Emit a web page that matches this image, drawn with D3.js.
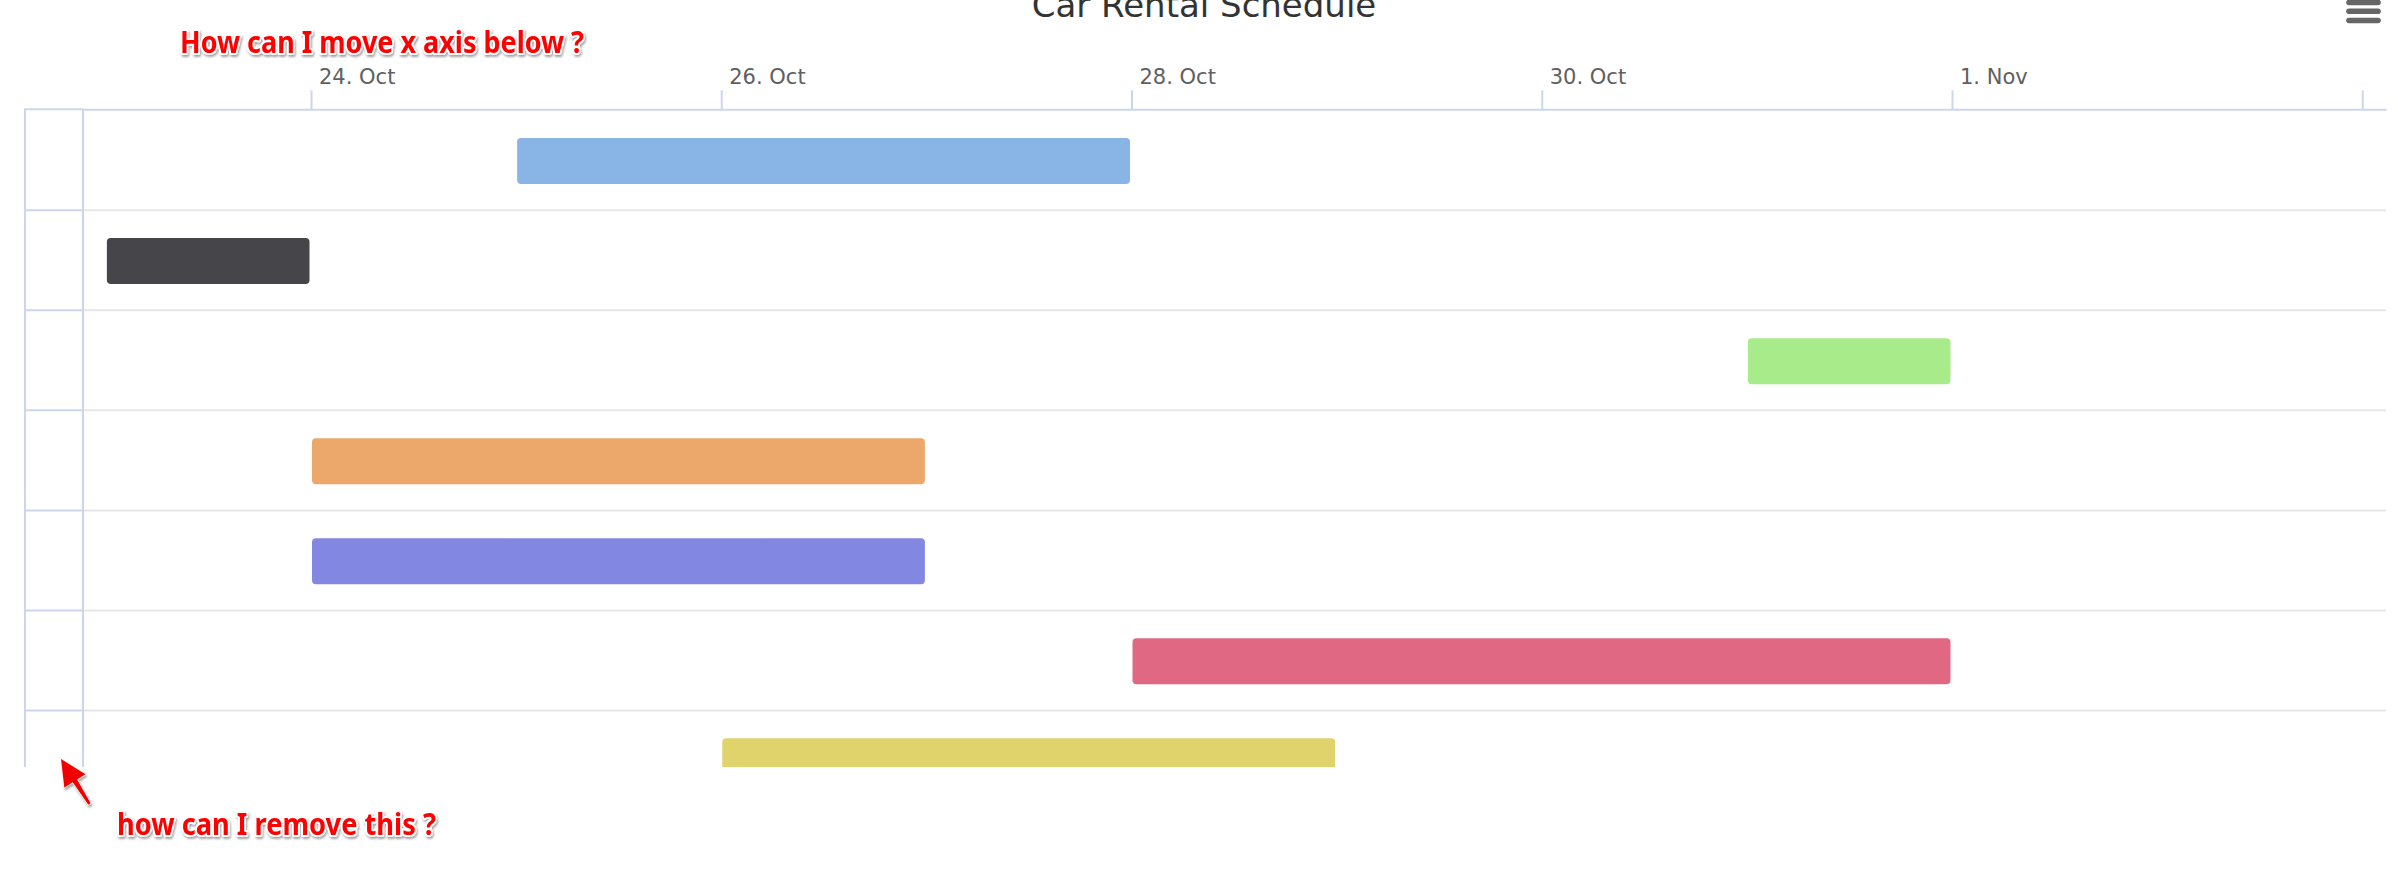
<!DOCTYPE html>
<html>
<head>
<meta charset="utf-8">
<script src="https://cdn.jsdelivr.net/npm/d3@7"></script>
<style>
  html, body { margin: 0; padding: 0; background: #ffffff; }
  svg { display: block; }
</style>
</head>
<body>
<svg id="chart" width="2398" height="872"></svg>
<script>
// ---------------- data ----------------
const rowIds      = ["r1", "r2", "r3", "r4", "r5", "r6", "r7"];
const startDates  = ["2014-10-25", "2014-10-23", "2014-10-31", "2014-10-24", "2014-10-24", "2014-10-28", "2014-10-26"];
const endDates    = ["2014-10-28", "2014-10-24", "2014-11-01", "2014-10-27", "2014-10-27", "2014-11-01", "2014-10-29"];
const barColors   = ["#88b4e6", "#464549", "#a8eb8a", "#eba86a", "#8287e2", "#e16883", "#e0d36c"];
const tickDates   = ["2014-10-24", "2014-10-26", "2014-10-28", "2014-10-30", "2014-11-01", "2014-11-03"];
const tickLabels  = ["24. Oct", "26. Oct", "28. Oct", "30. Oct", "1. Nov", ""];
const chartTitle  = "Car Rental Schedule";
const note1       = "How can I move x axis below ?";
const note2       = "how can I remove this ?";

// ---------------- layout ----------------
const W = 2398, H = 872;
const gridLeft = 25, plotLeft = 83, plotRight = 2386;
const axisY = 109.3, plotTop = 110.2, rowH = 100.05, clipBottom = 767;
const axisColor = "#ccd6eb", rowLineColor = "#e6e6e6";

const parse = d3.utcParse("%Y-%m-%d");

const x = d3.scaleUtc()
  .domain([parse("2014-10-24"), parse("2014-11-01")])
  .range([311, 1952]);
x.domain([x.invert(plotLeft), x.invert(plotRight)]).range([plotLeft, plotRight]);

const y = d3.scaleBand()
  .domain(rowIds)
  .range([plotTop, plotTop + rowH * rowIds.length])
  .paddingInner(0).paddingOuter(0);

const svg = d3.select("#chart");

const defs = svg.append("defs");
defs.append("clipPath").attr("id", "plotClip")
  .append("rect").attr("x", 0).attr("y", 0).attr("width", W).attr("height", clipBottom);
const f = defs.append("filter").attr("id", "shadow")
  .attr("x", "-10%").attr("y", "-30%").attr("width", "120%").attr("height", "160%");
f.append("feDropShadow").attr("dx", 1).attr("dy", 2).attr("stdDeviation", 1.2)
  .attr("flood-color", "#555").attr("flood-opacity", 0.55);

svg.append("rect").attr("width", W).attr("height", H).attr("fill", "#ffffff");

// title (cut off at the top edge, as in the reference)
svg.append("text")
  .attr("x", 1204).attr("y", 16.5)
  .attr("text-anchor", "middle")
  .attr("font-family", "'DejaVu Sans', sans-serif")
  .attr("font-size", 34)
  .attr("fill", "#333333")
  .text(chartTitle);

// context menu icon
const menuY = [2.5, 11.3, 20.5];
svg.append("g").selectAll("line").data(menuY).join("line")
  .attr("x1", 2349).attr("x2", 2378)
  .attr("y1", d => d).attr("y2", d => d)
  .attr("stroke", "#666666").attr("stroke-width", 5.6).attr("stroke-linecap", "round");

const clipG = svg.append("g").attr("clip-path", "url(#plotClip)");

// row lines in the plot
const rowBounds = rowIds.slice(1).map(r => y(r));
clipG.append("g").selectAll("line").data(rowBounds).join("line")
  .attr("x1", plotLeft).attr("x2", plotRight)
  .attr("y1", d => d).attr("y2", d => d)
  .attr("stroke", rowLineColor).attr("stroke-width", 2);

// left grid column (y-axis) horizontal lines
clipG.append("g").selectAll("line").data(rowBounds).join("line")
  .attr("x1", gridLeft).attr("x2", plotLeft)
  .attr("y1", d => d).attr("y2", d => d)
  .attr("stroke", axisColor).attr("stroke-width", 2);

// bars
const barH = 46;
clipG.append("g").selectAll("rect").data(rowIds).join("rect")
  .attr("x", (d, i) => x(parse(startDates[i])) + 1)
  .attr("width", (d, i) => x(parse(endDates[i])) - x(parse(startDates[i])) - 2.5)
  .attr("y", d => y(d) + (y.bandwidth() - barH) / 2 + 0.8)
  .attr("height", barH)
  .attr("rx", 4).attr("ry", 4)
  .attr("fill", (d, i) => barColors[i]);

// vertical grid column lines
clipG.append("g").selectAll("line").data([gridLeft, plotLeft]).join("line")
  .attr("x1", d => d).attr("x2", d => d)
  .attr("y1", axisY).attr("y2", clipBottom)
  .attr("stroke", axisColor).attr("stroke-width", 2);

// top grid line for left column
svg.append("line")
  .attr("x1", gridLeft - 1).attr("x2", plotLeft)
  .attr("y1", axisY).attr("y2", axisY)
  .attr("stroke", axisColor).attr("stroke-width", 2);

// top x axis
const xAxis = d3.axisTop(x)
  .tickValues(tickDates.map(parse))
  .tickFormat((d, i) => tickLabels[i])
  .tickSizeInner(19).tickSizeOuter(0);

const ax = svg.append("g").attr("transform", `translate(0,${axisY})`).call(xAxis);
ax.select(".domain").attr("stroke", axisColor).attr("stroke-width", 2);
ax.selectAll(".tick line").attr("stroke", axisColor).attr("stroke-width", 2);
ax.selectAll(".tick text")
  .attr("text-anchor", "start")
  .attr("x", 7.5).attr("y", -25.3).attr("dy", null)
  .attr("font-family", "'DejaVu Sans', sans-serif")
  .attr("font-size", 21)
  .attr("fill", "#606060");

// annotations
function note(txt, x0, baseline, len) {
  svg.append("text")
    .attr("x", x0).attr("y", baseline)
    .attr("font-family", "'Noto Sans', sans-serif")
    .attr("font-weight", "bold")
    .attr("font-size", 30)
    .attr("textLength", len).attr("lengthAdjust", "spacingAndGlyphs")
    .attr("fill", "#ff0000")
    .attr("stroke", "#ffffff").attr("stroke-width", 4).attr("stroke-linejoin", "round")
    .attr("paint-order", "stroke")
    .attr("filter", "url(#shadow)")
    .text(txt);
}
note(note1, 180, 53, 404);
note(note2, 117, 835, 319);

// arrow
const tip = [61, 759], tail = [89.5, 804];
const dx = tip[0] - tail[0], dy = tip[1] - tail[1];
const L = Math.hypot(dx, dy);
const u = [dx / L, dy / L], n = [-u[1], u[0]];
const headLen = 26, headHalf = 12.5, shaftHalf = 2.6, tailHalf = 1.4;
const base = [tip[0] - headLen * u[0], tip[1] - headLen * u[1]];
const pt = (p, k) => [p[0] + k * n[0], p[1] + k * n[1]];
const arrowPts = [tip, pt(base, headHalf), pt(base, shaftHalf), pt(tail, tailHalf),
                  pt(tail, -tailHalf), pt(base, -shaftHalf), pt(base, -headHalf)];
svg.append("path")
  .attr("d", d3.line()(arrowPts) + "Z")
  .attr("fill", "#f00000")
  .attr("stroke", "#ffffff").attr("stroke-width", 1.5).attr("stroke-linejoin", "round")
  .attr("paint-order", "stroke")
  .attr("filter", "url(#shadow)");
</script>
</body>
</html>
